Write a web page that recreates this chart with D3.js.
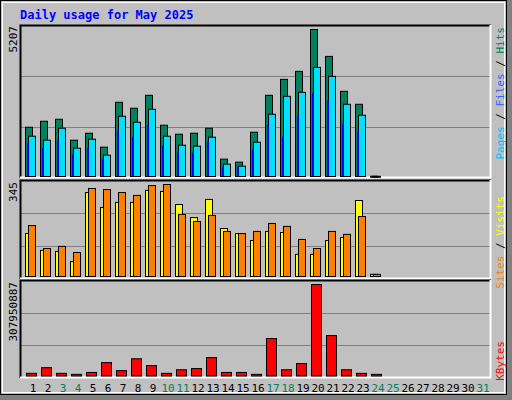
<!DOCTYPE html>
<html><head><meta charset="utf-8">
<script src="https://cdn.jsdelivr.net/npm/d3@7"></script>
<style>body{margin:0;background:#fff}</style>
</head><body>
<script>
const days = d3.range(1, 32);
const weekends = [3, 4, 10, 11, 17, 18, 24, 25, 31];
const hits  = [1745,1957,2028,1286,1533,1039,2629,2417,2876,1816,1498,1533,1710,615,509,1569,2876,3441,3724,5207,4254,3017,2558,10,0,0,0,0,0,0,0];
const files = [1427,1286,1710,1003,1321,756,2134,1922,2381,1427,1109,1074,1392,438,367,1215,2205,2841,2982,3865,3547,2558,2169,8,0,0,0,0,0,0,0];
const pages = [1145,1003,1251,767,1003,615,1604,1392,1816,1074,862,827,1215,332,332,933,1816,1392,2134,2947,2664,1851,1569,5,0,0,0,0,0,0,0];
const visits = [161,98,94,56,315,259,278,278,323,319,270,221,289,180,161,135,169,165,83,83,135,146,285,8,0,0,0,0,0,0,0];
const sites  = [191,105,113,90,330,326,315,304,341,345,233,206,229,169,161,169,199,188,139,105,169,158,225,8,0,0,0,0,0,0,0];
const kbytes = [9e6,28e6,9e6,5.6e6,12e6,45e6,18e6,58e6,35e6,9e6,21e6,25e6,62e6,12e6,12e6,5.6e6,126e6,21e6,42e6,307950887,136e6,21e6,9e6,5.6e6,0,0,0,0,0,0,0];

const W = 512, H = 400;
const svg = d3.select('body').append('svg').attr('width', W).attr('height', H)
  .style('font-family', 'DejaVu Sans Mono, monospace');

svg.append('rect').attr('x', 0).attr('y', 0).attr('width', W).attr('height', H).attr('fill', '#808080');
svg.append('rect').attr('x', 0).attr('y', 0).attr('width', 506).attr('height', 394).attr('fill', '#C0C0C0')
  .attr('stroke', '#000').attr('stroke-width', 1).attr('transform', 'translate(0.5,0.5)');
svg.append('rect').attr('x', 2).attr('y', 2).attr('width', 502).attr('height', 390).attr('fill', 'none')
  .attr('stroke', '#fff').attr('stroke-width', 1).attr('transform', 'translate(0.5,0.5)');

svg.append('text').attr('x', 20).attr('y', 19).attr('fill', '#0000FF').attr('font-weight', 'bold')
  .attr('font-size', 12).text('Daily usage for May 2025');

const x = d3.scaleLinear().domain([1, 32]).range([25, 490]);
const L = 20, R = 491;

function panel(y0, y1, top) {
  svg.append('rect').attr('x', L).attr('y', y0).attr('width', R - L).attr('height', y1 - y0).attr('fill', '#C0C0C0');
  [1, 2].forEach(k => {
    const gy = Math.round(y1 - (y1 - y0) * k / 3) + 0.5;
    svg.append('line').attr('x1', L).attr('x2', R).attr('y1', gy).attr('y2', gy).attr('stroke', '#808080');
  });
  svg.append('path').attr('d', `M${L + .5},${y1}V${y0 + .5}H${R}`).attr('fill', 'none').attr('stroke', '#000').attr('stroke-width', 2);
  svg.append('path').attr('d', `M${L},${y1 - .5}H${R - .5}V${y0}`).attr('fill', 'none').attr('stroke', '#fff').attr('stroke-width', 2);
}

function bars(vals, y, dx, w, fill) {
  svg.append('g').selectAll('rect').data(days.filter((d, i) => vals[i] > 0)).enter().append('rect')
    .attr('x', d => x(d) + dx + .5).attr('width', w)
    .attr('y', d => y(vals[d - 1]) + .5).attr('height', d => Math.max(1, y(0) - y(vals[d - 1])))
    .attr('fill', fill).attr('stroke', '#000').attr('stroke-width', 1);
}

// top panel
panel(25, 178, 0);
const y1 = d3.scaleLinear().domain([0, 5207]).range([176, 29]);
bars(hits, y1, 0, 7, '#00805C');
bars(files, y1, 3, 7, '#00E0FF');
svg.append('g').selectAll('rect').data(days.filter((d, i) => pages[i] > 0)).enter().append('rect')
  .attr('x', d => x(d) + 2).attr('width', 2)
  .attr('y', d => y1(pages[d - 1])).attr('height', d => y1(0) - y1(pages[d - 1]))
  .attr('fill', '#0000FF');

// middle panel
panel(180, 279, 0);
const y2 = d3.scaleLinear().domain([0, 345]).range([276, 184]);
bars(visits, y2, 0, 7, '#FFFF00');
bars(sites, y2, 3, 7, '#FF8000');

// bottom panel
panel(280, 378, 0);
const y3 = d3.scaleLinear().domain([0, 307950887]).range([375.5, 284]);
bars(kbytes, y3, 1, 10, '#FF0000');

// day labels
svg.append('g').selectAll('text').data(days).enter().append('text')
  .attr('x', d => x(d) + 8).attr('y', 392).attr('text-anchor', 'middle').attr('font-size', 11)
  .attr('fill', d => weekends.includes(d) ? '#00805C' : '#000').text(d => d);

// left max labels
function vlabel(tx, ty, parts) {
  const t = svg.append('text').attr('transform', `translate(${tx},${ty}) rotate(-90)`)
    .attr('text-anchor', 'end').attr('font-size', 11);
  parts.forEach(p => t.append('tspan').attr('fill', p[1]).text(p[0]));
}
vlabel(17, 26, [['5207', '#000']]);
vlabel(17, 182, [['345', '#000']]);
vlabel(17, 282, [['307950887', '#000']]);
vlabel(504, 27, [['Pages', '#00C0FF'], [' / ', '#000'], ['Files', '#3060FF'], [' / ', '#000'], ['Hits', '#00805C']]);
vlabel(504, 196, [['Sites', '#FF8000'], [' / ', '#000'], ['Visits', '#FFFF00']]);
vlabel(504, 341, [['KBytes', '#FF0000']]);
</script>
</body></html>
